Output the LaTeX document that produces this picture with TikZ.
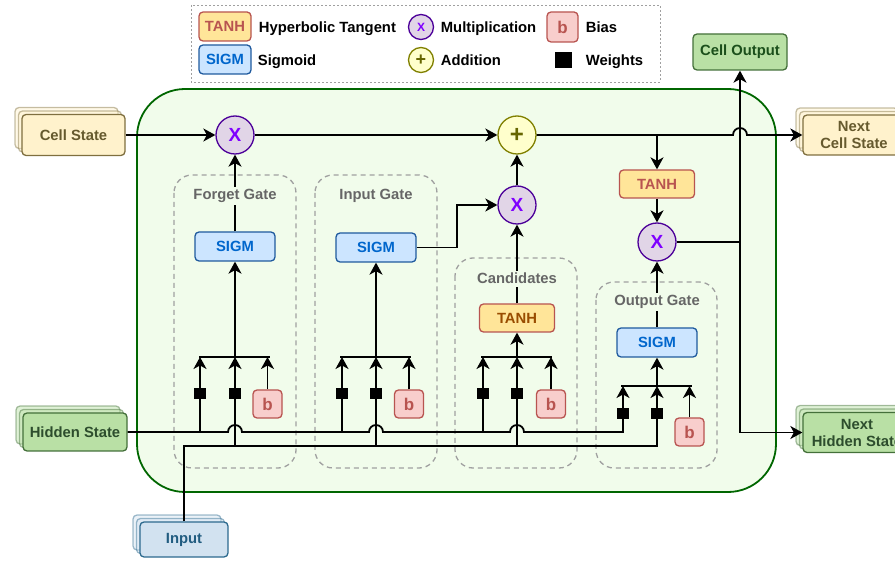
\documentclass[tikz,border=0pt]{standalone}
\usepackage{fontspec}
\setmainfont{Liberation Sans}
\usetikzlibrary{positioning,calc,shadows,arrows.meta}

\definecolor{tanhfill}{HTML}{FFE599}
\definecolor{tanhline}{HTML}{B85450}
\definecolor{candtext}{HTML}{994C00}
\definecolor{sigfill}{HTML}{CCE5FF}
\definecolor{sigline}{HTML}{1F5A9E}
\definecolor{sigtext}{HTML}{0066CC}
\definecolor{mulfill}{HTML}{E1D5E7}
\definecolor{mulline}{HTML}{4C0099}
\definecolor{multext}{HTML}{7F00FF}
\definecolor{addfill}{HTML}{FFFFCC}
\definecolor{addline}{HTML}{808000}
\definecolor{addtext}{HTML}{666600}
\definecolor{biasfill}{HTML}{F8CECC}
\definecolor{biasline}{HTML}{B85450}
\definecolor{bodyfill}{HTML}{F1FCEB}
\definecolor{bodyline}{HTML}{006600}
\definecolor{cellfill}{HTML}{FFF2CC}
\definecolor{cellline}{HTML}{7F6F3F}
\definecolor{celltext}{HTML}{665A2E}
\definecolor{hidfill}{HTML}{B9E0A5}
\definecolor{hidline}{HTML}{44703A}
\definecolor{hidtext}{HTML}{2D4D2D}
\definecolor{outtext}{HTML}{1B4F1B}
\definecolor{infill}{HTML}{D2E2F0}
\definecolor{inline}{HTML}{2D6A8E}
\definecolor{intext}{HTML}{215C80}
\definecolor{gateline}{HTML}{A0A0A0}
\definecolor{gatetext}{HTML}{666666}

\begin{document}
\begin{tikzpicture}[x=1pt, y=-1pt,
  font=\fontsize{14.8}{17}\selectfont\bfseries,
  line width=1.8pt,
  arr/.style = {-{Stealth[length=12pt,width=13pt,inset=3.5pt]}},
  box/.style = {draw, rounded corners=4pt, line width=1.3pt, inner sep=0pt, align=center},
  stack/.style = {double copy shadow={shadow xshift=-3.5pt, shadow yshift=3.5pt, opacity=.45}},
  tanhbox/.style = {box, fill=tanhfill, draw=tanhline, text=tanhline, minimum width=75pt, minimum height=28pt},
  sigbox/.style = {box, fill=sigfill, draw=sigline, text=sigtext, minimum width=80pt, minimum height=29pt},
  biasbox/.style = {box, fill=biasfill, draw=biasline, text=biasline, minimum width=29pt, minimum height=28pt,
    font=\fontsize{17}{17}\selectfont\bfseries},
  weight/.style = {fill=black, minimum width=12pt, minimum height=11pt, inner sep=0pt},
  mulop/.style = {circle, draw=mulline, fill=mulfill, text=multext, line width=1.3pt, minimum size=38pt, inner sep=0pt,
    font=\fontsize{19}{19}\selectfont\bfseries},
  addop/.style = {circle, draw=addline, fill=addfill, text=addtext, line width=1.3pt, minimum size=38pt, inner sep=0pt,
    font=\fontsize{24}{24}\selectfont\bfseries},
  legendtext/.style = {anchor=base west, inner sep=0pt},
  gatebox/.style = {draw=gateline, line width=1.3pt, dash pattern=on 5pt off 4pt, rounded corners=18pt},
  gatelabel/.style = {anchor=base, text=gatetext, fill=bodyfill, inner sep=2.5pt}
]
\useasboundingbox (0,0) rectangle (895,561);

% legend
\draw[draw=gateline, line width=0.8pt, dash pattern=on 2pt off 2pt] (191,5) rectangle (660,82);
\node[tanhbox, minimum width=52pt, minimum height=29pt] (ltanh) at (225,26.5) {TANH};
\node[legendtext] (ltanhtext) at (258,32.5) {Hyperbolic Tangent};
\node[sigbox, minimum width=52pt, minimum height=29pt] (lsig) at (225,59.5) {SIGM};
\node[legendtext] (lsigtext) at (257,66) {Sigmoid};
\node[mulop, minimum size=25pt, font=\fontsize{12}{12}\selectfont\bfseries] (lmul) at (421,27) {X};
\node[legendtext] (lmultext) at (440,32.5) {Multiplication};
\node[addop, minimum size=25pt, font=\fontsize{18}{18}\selectfont\bfseries] (ladd) at (421,60) {+};
\node[legendtext] (laddtext) at (440,66) {Addition};
\node[biasbox, minimum width=31pt, minimum height=30pt] (lbias) at (562.5,27) {b};
\node[legendtext] (lbiastext) at (585,32.5) {Bias};
\node[weight, minimum width=17pt, minimum height=16pt] (lweight) at (563,60) {};
\node[legendtext] (lweighttext) at (585,66) {Weights};

% cell body and gates
\draw[draw=bodyline, fill=bodyfill, line width=1.8pt, rounded corners=48pt] (137,89) rectangle (776,492);
\draw[gatebox] (174,175) rectangle (296,468);
\draw[gatebox] (315,175) rectangle (437,468);
\draw[gatebox] (455,258) rectangle (577,468);
\draw[gatebox] (596,282) rectangle (717,468);

% inputs and outputs
\node[box, stack, fill=cellfill, draw=cellline, text=celltext, minimum width=103pt, minimum height=41pt] (cell) at (73.5,135) {Cell State};
\node[box, stack, fill=hidfill, draw=hidline, text=hidtext, minimum width=104pt, minimum height=38pt] (hidden) at (75,432) {Hidden State};
\node[box, stack, fill=infill, draw=inline, text=intext, minimum width=88pt, minimum height=35pt] (input) at (184,539.5) {Input};
\node[box, stack, fill=cellfill, draw=cellline, text=celltext, minimum width=102pt, minimum height=40pt] (ncell) at (854,135) {Next\\Cell State};
\node[box, stack, fill=hidfill, draw=hidline, text=hidtext, minimum width=108pt, minimum height=40pt] (nhid) at (857,432.5) {Next\\Hidden State};
\node[box, fill=hidfill, draw=hidline, text=outtext, minimum width=94pt, minimum height=36pt] (cout) at (740,52) {Cell Output};

% operators
\node[mulop] (fx) at (235,135) {X};
\node[addop] (add) at (517,135) {+};
\node[mulop] (x2) at (517,205) {X};
\node[mulop] (ox) at (657,242) {X};

% gate contents
\node[sigbox] (fsig) at (235,246.5) {SIGM};
\node[sigbox] (isig) at (376,247.5) {SIGM};
\node[tanhbox, text=candtext] (ctanh) at (517,318) {TANH};
\node[sigbox] (osig) at (657,342.5) {SIGM};
\node[tanhbox] (otanh) at (657,184) {TANH};

\coordinate (fbar) at (235,357);
\coordinate (ibar) at (376,357);
\coordinate (cbar) at (517,357);
\coordinate (obar) at (657,386);
\coordinate (hy) at (hidden.east);
\coordinate (iy) at (0,446);

\node[weight] (fw1) at (200,394) {};
\node[weight] (fw2) at (235,394) {};
\node[biasbox] (fb) at (267.5,404) {b};
\node[weight] (iw1) at (342,394) {};
\node[weight] (iw2) at (376,394) {};
\node[biasbox] (ib) at (409,404) {b};
\node[weight] (cw1) at (483,394) {};
\node[weight] (cw2) at (517,394) {};
\node[biasbox] (cb) at (551,404) {b};
\node[weight] (ow1) at (623,414) {};
\node[weight] (ow2) at (657,414) {};
\node[biasbox] (ob) at (689.5,432) {b};

% summing bars and their inputs
\foreach \g in {f,i,c,o} {
  \draw ($(\g bar)+(-36,0)$) -- ($(\g bar)+(35,0)$);
  \draw[arr] (\g b.north) -- (\g b |- \g bar);
}
\foreach \g in {f,i,c} {
  \draw[arr] (\g w1 |- hy) -- (\g w1 |- \g bar);
  \draw[arr] (\g w2 |- iy) -- (\g w2 |- \g bar);
}

% hidden state and input lines
\draw[arr] (hidden.east) -- ($(fw2 |- hy)+(-7,0)$) arc[start angle=180, end angle=0, radius=7pt]
  -- ($(iw2 |- hy)+(-7,0)$) arc[start angle=180, end angle=0, radius=7pt]
  -- ($(cw2 |- hy)+(-7,0)$) arc[start angle=180, end angle=0, radius=7pt]
  -- (ow1 |- hy) -- (ow1 |- obar);
\draw[arr] (input.north) -- (input |- iy) -- (ow2 |- iy) -- (ow2 |- obar);

% gate outputs
\draw[arr] (fbar) -- (fsig.south);
\draw[arr] (fsig.north) -- (fx.south);
\draw[arr] (ibar) -- (isig.south);
\draw[arr] (isig.east) -| ($(isig.east)!.5!(x2.west)$) |- (x2.west);
\draw[arr] (cbar) -- (ctanh.south);
\draw[arr] (ctanh.north) -- (x2.south);
\draw[arr] (x2.north) -- (add.south);
\draw[arr] (obar) -- (osig.south);
\draw[arr] (osig.north) -- (ox.south);

% cell state line
\draw[arr] (cell.east) -- (fx.west);
\draw[arr] (fx.east) -- (add.west);
\draw[arr] (add.east) -- ($(cout |- add)+(-7,0)$) arc[start angle=180, end angle=0, radius=7pt] -- (ncell.west);
\draw[arr] (otanh |- add) -- (otanh.north);
\draw[arr] (otanh.south) -- (ox.north);

% hidden output
\draw (ox.east) -- (cout |- ox);
\draw[arr] (cout |- ox) -- (cout.south);
\draw[arr] (cout |- ox) -- (cout |- nhid) -- (nhid.west);

% gate labels
\node[gatelabel] (flabel) at (235,199.5) {Forget Gate};
\node[gatelabel] (ilabel) at (376,200) {Input Gate};
\node[gatelabel] (clabel) at (517,284) {Candidates};
\node[gatelabel] (olabel) at (657,305.5) {Output Gate};
\end{tikzpicture}
\end{document}
